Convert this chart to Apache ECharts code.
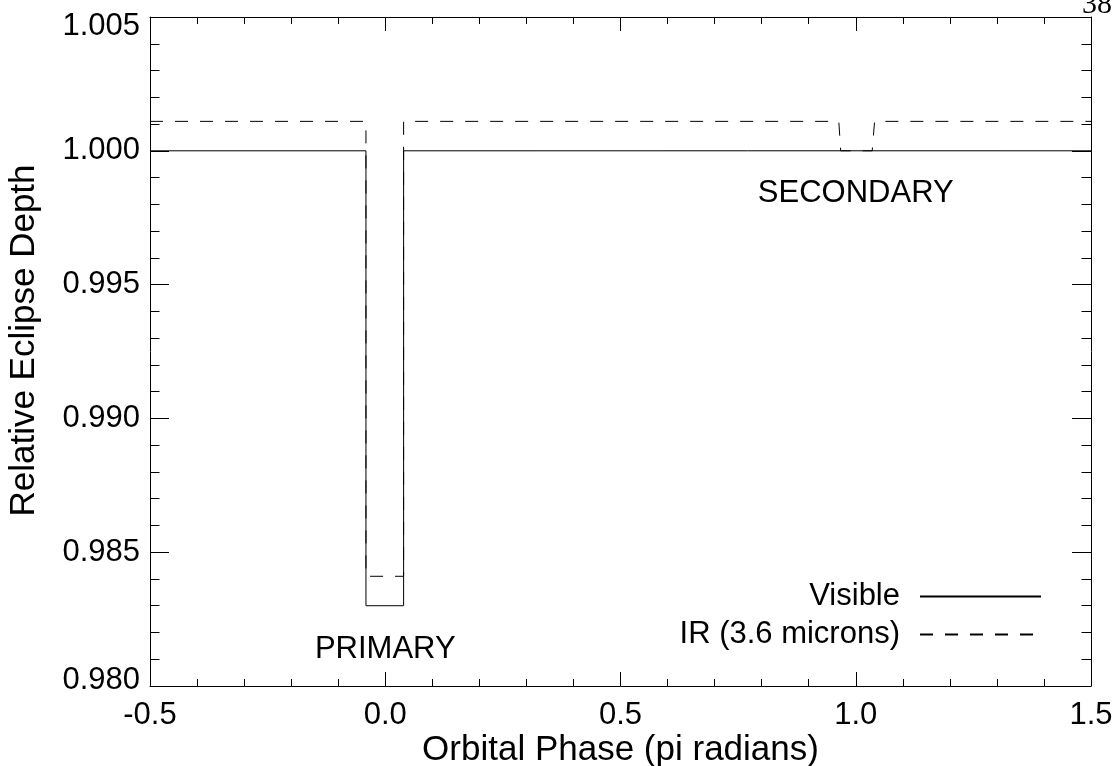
<!DOCTYPE html>
<html>
<head>
<meta charset="utf-8">
<script src="https://cdn.jsdelivr.net/npm/echarts@6/dist/echarts.min.js"></script>
<style>
html,body{margin:0;padding:0;background:#fff;}
#chart{width:1118px;height:766px;}
</style>
</head>
<body>
<div id="chart"></div>
<script>
// ---- data ----
var visibleX = [-0.5, -0.041, -0.041, 0.039, 0.039, 1.5];
var visibleY = [1.000, 1.000, 0.983, 0.983, 1.000, 1.000];
var irX = [-0.5, -0.041, -0.041, 0.039, 0.039, 0.964, 0.968, 1.035, 1.040, 1.5];
var irY = [1.0011, 1.0011, 0.9841, 0.9841, 1.0011, 1.0011, 1.0000, 1.0000, 1.0011, 1.0011];
var seriesNames = ['Visible', 'IR (3.6 microns)'];
var xTickLabels = ['-0.5', '0.0', '0.5', '1.0', '1.5'];
var yTickLabels = ['0.980', '0.985', '0.990', '0.995', '1.000', '1.005'];
var annotationText = ['PRIMARY', 'SECONDARY'];
var annotationX = [0.0, 1.0];
var annotationY = [0.98136, 0.99840];
var pageNumber = '38';

function zip(xs, ys) { return xs.map(function (x, i) { return [x, ys[i]]; }); }

var FONT = 'Liberation Sans, Arial, Helvetica, sans-serif';
var FS = 31;
var TFS = 35;
var xMin = parseFloat(xTickLabels[0]), xMax = parseFloat(xTickLabels[xTickLabels.length - 1]);
var yMin = parseFloat(yTickLabels[0]), yMax = parseFloat(yTickLabels[yTickLabels.length - 1]);

function xAxisDef(pos, showLabels) {
  return {
    type: 'value', position: pos, min: xMin, max: xMax, interval: 0.5,
    axisLine: { show: true, onZero: false, lineStyle: { color: '#000', width: 1 } },
    axisTick: { show: true, inside: true, length: 14, lineStyle: { color: '#000', width: 1 } },
    minorTick: { show: true, splitNumber: 5, length: 7, lineStyle: { color: '#000', width: 1 } },
    splitLine: { show: false },
    axisLabel: {
      show: showLabels, margin: 14, color: '#000', fontSize: FS, fontFamily: FONT,
      formatter: function (v) { return xTickLabels[Math.round((v - xMin) / 0.5)]; }
    },
    name: showLabels ? 'Orbital Phase (pi radians)' : '',
    nameLocation: 'middle', nameGap: 47, nameMoveOverlap: false,
    nameTextStyle: { color: '#000', fontSize: TFS, fontFamily: FONT }
  };
}
var richBase = { color: '#000', fontSize: FS, fontFamily: FONT };
function yAxisDef(pos, showLabels) {
  return {
    type: 'value', position: pos, min: yMin, max: yMax, interval: 0.005,
    axisLine: { show: true, onZero: false, lineStyle: { color: '#000', width: 1 } },
    axisTick: { show: true, inside: true, length: 19, lineStyle: { color: '#000', width: 1 } },
    minorTick: { show: true, splitNumber: 5, length: 9.5, lineStyle: { color: '#000', width: 1 } },
    splitLine: { show: false },
    axisLabel: {
      show: showLabels, margin: 10, color: '#000', fontSize: FS, fontFamily: FONT,
      formatter: function (v) {
        var i = Math.round((v - yMin) / 0.005);
        var t = yTickLabels[i];
        if (i === 0) return '{lo|' + t + '}';
        if (i === yTickLabels.length - 1) return '{hi|' + t + '}';
        return '{n|' + t + '}';
      },
      rich: {
        n: richBase,
        lo: Object.assign({ padding: [0, 0, 12, 0] }, richBase),
        hi: Object.assign({ padding: [18, 0, 0, 0] }, richBase)
      }
    },
    name: showLabels ? 'Relative Eclipse Depth' : '',
    nameLocation: 'middle', nameGap: 108, nameMoveOverlap: false,
    nameTextStyle: { color: '#000', fontSize: TFS, fontFamily: FONT, padding: [0, 0, 0, 22] }
  };
}

var chart = echarts.init(document.getElementById('chart'), null, { renderer: 'canvas' });
chart.setOption({
  animation: false,
  backgroundColor: '#fff',
  grid: { left: 150, right: 27, top: 17, bottom: 80, containLabel: false, outerBoundsMode: 'none' },
  xAxis: [xAxisDef('bottom', true), xAxisDef('top', false)],
  yAxis: [yAxisDef('left', true), yAxisDef('right', false)],
  legend: {
    data: seriesNames, orient: 'vertical', right: 71, top: 576,
    align: 'right', itemWidth: 121, itemHeight: 14, itemGap: 7,
    selectedMode: false,
    itemStyle: { opacity: 0 },
    textStyle: { color: '#000', fontSize: FS, fontFamily: FONT, padding: [0, 15, 0, 0] }
  },
  series: [
    {
      name: seriesNames[0], type: 'line', data: zip(visibleX, visibleY),
      symbol: 'none', color: '#000', clip: true,
      lineStyle: { color: '#000', width: 1, type: 'solid' }
    },
    {
      name: seriesNames[1], type: 'line', data: zip(irX, irY),
      symbol: 'none', color: '#000', clip: true,
      lineStyle: { color: '#000', width: 1, type: [13, 12] }
    },
    {
      name: 'annotations', type: 'scatter', symbolSize: 0, silent: true,
      itemStyle: { opacity: 1 },
      data: annotationText.map(function (t, i) { return { name: t, value: [annotationX[i], annotationY[i]] }; }),
      label: {
        show: true, position: 'inside', formatter: function (p) { return p.name; },
        color: '#000', fontSize: FS, fontFamily: FONT
      }
    }
  ],
  graphic: [{
    type: 'text', right: 6, top: -10,
    style: { text: pageNumber, fill: '#000', font: '30px "Liberation Serif", "Times New Roman", serif' }
  }]
});
</script>
</body>
</html>
